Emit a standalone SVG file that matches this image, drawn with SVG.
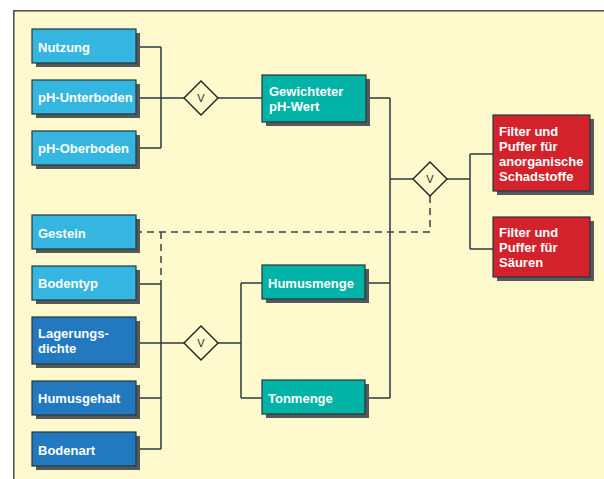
<svg xmlns="http://www.w3.org/2000/svg" width="604" height="479" viewBox="0 0 604 479">
  <defs>
    <style>
      .panel { fill: #fffacd; stroke: #555555; stroke-width: 1.6; }
      .shadow { fill: #545a5a; }
      .box { stroke: #26363c; stroke-width: 1.2; }
      .light { fill: #35b6e1; }
      .dark { fill: #2379c0; }
      .teal { fill: #00b3a6; }
      .red { fill: #d3222b; }
      .lbl { font-family: "Liberation Sans", Arial, sans-serif; font-weight: bold; font-size: 13px; fill: #ffffff; }
      .wire { fill: none; stroke: #2b3b40; stroke-width: 1.5; }
      .dash { fill: none; stroke: #3a3f40; stroke-width: 1.5; stroke-dasharray: 7 5; }
      .gate { fill: #fffacd; stroke: #1e1e1e; stroke-width: 1.4; }
      .gtxt { font-family: "Liberation Sans", Arial, sans-serif; font-size: 11px; fill: #2a2a2a; text-anchor: middle; }
    </style>
  </defs>

  <!-- page background and framed panel -->
  <rect x="0" y="0" width="604" height="479" fill="#ffffff"/>
  <rect class="panel" x="13.8" y="10.8" width="600" height="480"/>

  <!-- connectors -->
  <g id="connectors">
    <!-- upper group into first AND gate -->
    <path class="wire" d="M136 47 H161 M136 98 H184 M136 148 H161 M161 47 V148"/>
    <path class="wire" d="M218 98 H262"/>
    <!-- lower group into second AND gate -->
    <path class="wire" d="M136 284 H161 M136 343 H184 M136 398 H161 M136 449 H161 M161 284 V449"/>
    <path class="wire" d="M218 343 H241 M241 283 V398 M241 283 H262 M241 398 H262"/>
    <!-- intermediate results into final AND gate -->
    <path class="wire" d="M366 98 H390 M365 283 H390 M365 398 H390 M390 98 V398 M390 179 H413"/>
    <path class="wire" d="M447 179 H470 M470 154 V249 M470 154 H493 M470 249 H493"/>
    <!-- optional influence of Gestein -->
    <path class="dash" d="M430 196 V232 H136"/>
    <path class="dash" d="M161 232 V284"/>
  </g>

  <!-- AND gates -->
  <g id="gate-ph">
    <polygon class="gate" points="201,81 218,98 201,115 184,98"/>
    <text class="gtxt" x="201" y="102">V</text>
  </g>
  <g id="gate-humus">
    <polygon class="gate" points="201,326 218,343 201,360 184,343"/>
    <text class="gtxt" x="201" y="347">V</text>
  </g>
  <g id="gate-filter">
    <polygon class="gate" points="430,162 447,179 430,196 413,179"/>
    <text class="gtxt" x="430" y="183">V</text>
  </g>

  <!-- input nodes -->
  <g id="nutzung">
    <rect class="shadow" x="36" y="33" width="104" height="34"/>
    <rect class="box light" x="32" y="29" width="104" height="34"/>
    <text class="lbl" x="38" y="52">Nutzung</text>
  </g>
  <g id="ph-unterboden">
    <rect class="shadow" x="36" y="84" width="104" height="34"/>
    <rect class="box light" x="32" y="80" width="104" height="34"/>
    <text class="lbl" x="38" y="102">pH-Unterboden</text>
  </g>
  <g id="ph-oberboden">
    <rect class="shadow" x="36" y="135" width="104" height="34"/>
    <rect class="box light" x="32" y="131" width="104" height="34"/>
    <text class="lbl" x="38" y="153">pH-Oberboden</text>
  </g>
  <g id="gestein">
    <rect class="shadow" x="36" y="219" width="104" height="34"/>
    <rect class="box light" x="32" y="215" width="104" height="34"/>
    <text class="lbl" x="38" y="238">Gestein</text>
  </g>
  <g id="bodentyp">
    <rect class="shadow" x="36" y="270" width="104" height="34"/>
    <rect class="box light" x="32" y="266" width="104" height="34"/>
    <text class="lbl" x="38" y="288">Bodentyp</text>
  </g>
  <g id="lagerungsdichte">
    <rect class="shadow" x="36" y="321" width="104" height="47"/>
    <rect class="box dark" x="32" y="317" width="104" height="47"/>
    <text class="lbl" x="38" y="338">Lagerungs-</text>
    <text class="lbl" x="38" y="353">dichte</text>
  </g>
  <g id="humusgehalt">
    <rect class="shadow" x="36" y="385" width="104" height="34"/>
    <rect class="box dark" x="32" y="381" width="104" height="34"/>
    <text class="lbl" x="38" y="403">Humusgehalt</text>
  </g>
  <g id="bodenart">
    <rect class="shadow" x="36" y="436" width="104" height="34"/>
    <rect class="box dark" x="32" y="432" width="104" height="34"/>
    <text class="lbl" x="38" y="455">Bodenart</text>
  </g>

  <!-- intermediate nodes -->
  <g id="gewichteter-ph">
    <rect class="shadow" x="266" y="79" width="104" height="47"/>
    <rect class="box teal" x="262" y="75" width="104" height="47"/>
    <text class="lbl" x="269" y="96">Gewichteter</text>
    <text class="lbl" x="269" y="111">pH-Wert</text>
  </g>
  <g id="humusmenge">
    <rect class="shadow" x="266" y="269" width="103" height="34"/>
    <rect class="box teal" x="262" y="265" width="103" height="34"/>
    <text class="lbl" x="268" y="288">Humusmenge</text>
  </g>
  <g id="tonmenge">
    <rect class="shadow" x="266" y="384" width="103" height="34"/>
    <rect class="box teal" x="262" y="380" width="103" height="34"/>
    <text class="lbl" x="268" y="403">Tonmenge</text>
  </g>

  <!-- result nodes -->
  <g id="filter-anorganisch">
    <rect class="shadow" x="497" y="119" width="97" height="76"/>
    <rect class="box red" x="493" y="115" width="97" height="76"/>
    <text class="lbl" x="499" y="136">Filter und</text>
    <text class="lbl" x="499" y="151">Puffer für</text>
    <text class="lbl" x="499" y="166">anorganische</text>
    <text class="lbl" x="499" y="181">Schadstoffe</text>
  </g>
  <g id="filter-saeuren">
    <rect class="shadow" x="497" y="221" width="97" height="60"/>
    <rect class="box red" x="493" y="217" width="97" height="60"/>
    <text class="lbl" x="499" y="237">Filter und</text>
    <text class="lbl" x="499" y="252">Puffer für</text>
    <text class="lbl" x="499" y="267">Säuren</text>
  </g>
</svg>
